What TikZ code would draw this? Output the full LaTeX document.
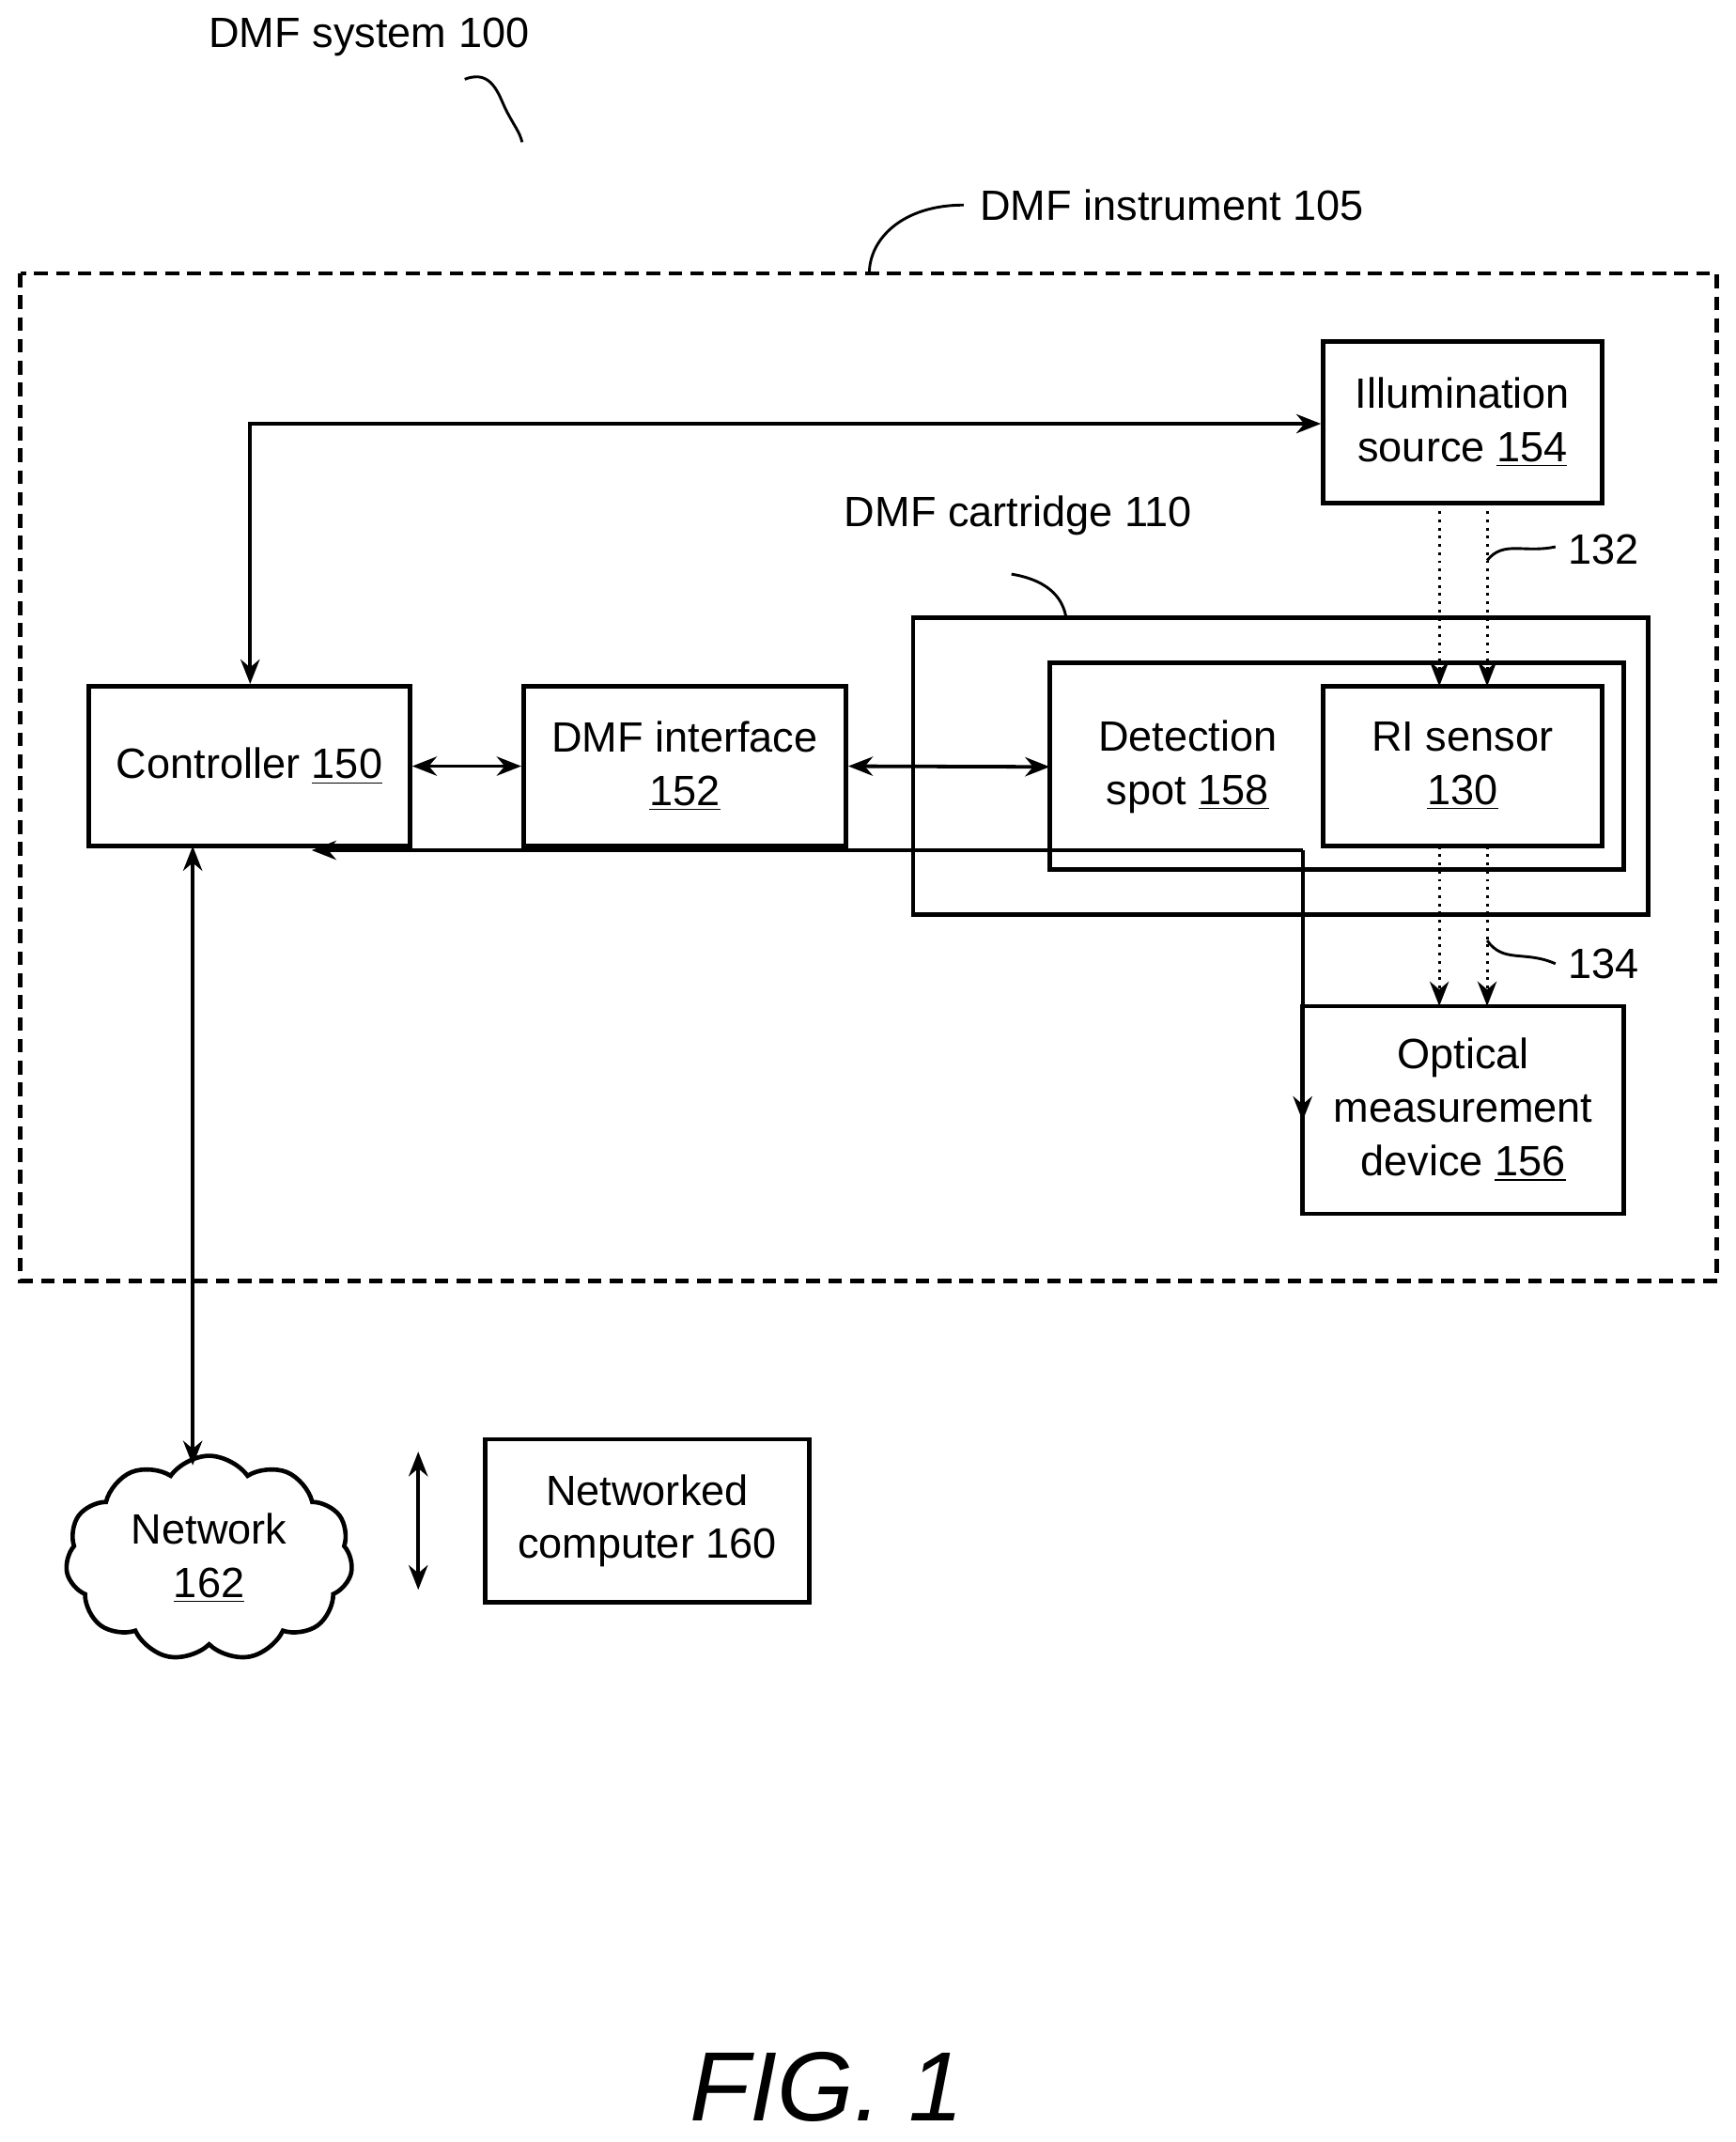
\documentclass[tikz,border=0pt]{standalone}
\usepackage{fontspec}
\setmainfont{Liberation Sans}
\usetikzlibrary{shapes.symbols,arrows.meta}
\begin{document}
\begin{tikzpicture}[x=0.5pt,y=-0.5pt,
  box/.style={draw,line width=1.6pt,inner sep=0pt},
  lbl/.style={font=\fontsize{15.5}{19.5}\selectfont,align=center},
  arr/.style={line width=1.3pt,-{Stealth[length=9pt,width=7pt]}},
  darr/.style={line width=1.3pt,{Stealth[length=9pt,width=7pt]}-{Stealth[length=9pt,width=7pt]}},
  dot/.style={line width=1pt,dotted,-{Stealth[length=9pt,width=7pt]}},
  sq/.style={line width=1pt}]
\useasboundingbox (0,0) rectangle (1270,1567);
% system label
\node[lbl] (sys) at (270,27) {DMF system 100};
\draw[sq] (340,58) .. controls (360,50) and (365,70) .. (370,80) .. controls (376,92) and (380,96) .. (382,104);
% instrument
\draw[line width=1.6pt,dash pattern=on 5pt off 3pt] (15,200) rectangle (1256,937);
\node[lbl,anchor=west] (inst) at (710,150) {DMF instrument 105};
\draw[sq] (705,150) .. controls (660,150) and (636,175) .. (636,200);
% boxes
\node[box,minimum width=204*0.5pt,minimum height=118*0.5pt,lbl] (ill) at (1070,309) {Illumination\\source \underline{154}};
\draw[box] (668,452) rectangle (1206,669);
\node[lbl] (cart) at (745,377) {DMF cartridge 110};
\draw[sq] (740,420) .. controls (770,425) and (778,440) .. (780,452);
\draw[box] (768,485) rectangle (1188,636);
\coordinate (det) at (768,561);
\node[lbl] (detl) at (869,561) {Detection\\spot \underline{158}};
\node[box,minimum width=204*0.5pt,minimum height=117*0.5pt,lbl] (ri) at (1070,560.5) {RI sensor\\\underline{130}};
\node[box,minimum width=235*0.5pt,minimum height=117*0.5pt,lbl] (ctl) at (182.5,560.5) {Controller \underline{150}};
\node[box,minimum width=236*0.5pt,minimum height=117*0.5pt,lbl] (ifc) at (501,560.5) {DMF interface\\\underline{152}};
\node[box,minimum width=235*0.5pt,minimum height=152*0.5pt,lbl] (opt) at (1070.5,812) {Optical\\measurement\\device \underline{156}};
% connectors
\coordinate (c1) at (183,310);
\draw[darr] (ctl.north -| c1) -- (c1) -- (ill.west |- c1);
\draw[darr] (ctl.east) -- (ifc.west);
\draw[darr] (ifc.east) -- (det);
\coordinate (r1) at (953,622);
\coordinate (r2) at (953,820);
\coordinate (l1) at (228,622);
\draw[line width=1.3pt,-{Stealth[length=9pt,width=7pt]}] (r1) -- (r2);
\draw[line width=1.3pt,-{Stealth[length=9pt,width=7pt]}] (r1) -- (l1);
\foreach \x in {1053,1088}{
  \draw[dot] (\x,368) -- (\x,502);
  \draw[dot] (\x,619) -- (\x,736);
}
\node[lbl,anchor=west] (l132) at (1140,402) {132};
\draw[sq] (1088,410) .. controls (1100,395) and (1115,405) .. (1138,400);
\node[lbl,anchor=west] (l134) at (1140,705) {134};
\draw[sq] (1088,688) .. controls (1100,705) and (1115,695) .. (1138,705);
% network
\node[cloud,draw,line width=1.6pt,cloud puffs=11,cloud puff arc=110,aspect=1.3,minimum width=210*0.5pt,minimum height=150*0.5pt,lbl,inner sep=0pt] (net) at (153,1140) {Network\\\underline{162}};
\coordinate (n1) at (141,619);
\coordinate (n2) at (141,1072);
\draw[darr] (n1) -- (n2);
\coordinate (v1) at (306,1062);
\coordinate (v2) at (306,1163);
\draw[darr] (v1) -- (v2);
\node[box,minimum width=237*0.5pt,minimum height=119*0.5pt,lbl] (nc) at (473.5,1112.5) {Networked\\computer 160};
\node[font=\fontsize{36}{40}\selectfont\itshape] (fig) at (605,1527) {FIG. 1};
\end{tikzpicture}
\end{document}
